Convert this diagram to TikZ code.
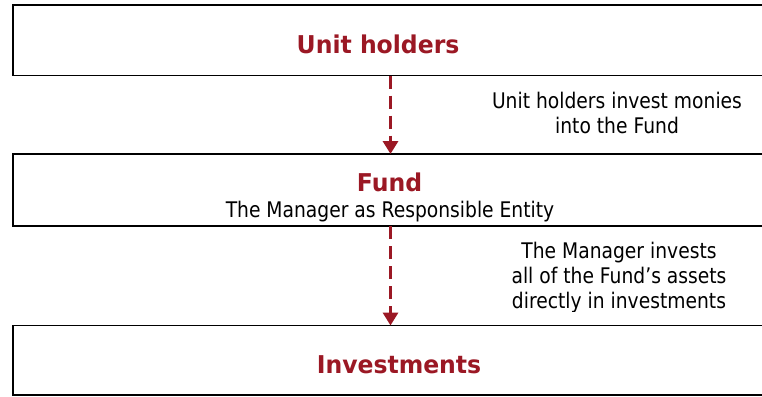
\documentclass[tikz,border=0pt]{standalone}
\usepackage{fontspec}
\setmainfont{DejaVu Sans}[FakeStretch=0.87]
\newfontfamily\titlefont{DejaVu Sans}[FakeStretch=0.96]
\usetikzlibrary{arrows.meta}
\definecolor{fundred}{RGB}{155,24,36}
\tikzset{
  band/.style={draw=black, line width=1.8pt, rectangle, outer sep=0pt, inner sep=0pt, anchor=north west},
  title/.style={text=fundred, font=\titlefont\bfseries\fontsize{24.5}{28}\selectfont, inner sep=0pt, anchor=base},
  body/.style={text=black, font=\fontsize{21.5}{25}\selectfont, inner sep=0pt, align=center},
  flow/.style={draw=fundred, line width=3.4pt, dash pattern=on 13pt off 7pt, -{Triangle[width=15pt,length=13pt]}}
}
\begin{document}
\begin{tikzpicture}[x=1pt, y=-1pt]
\useasboundingbox (0,0) rectangle (762,396);
\fill[white] (0,0) rectangle (762,396);
\clip (0,0) rectangle (762,396);
% bands
\node[band, minimum width=790pt, minimum height=70.5pt] (top) at (13,5) {};
\node[band, minimum width=790pt, minimum height=72pt] (fund) at (13,154) {};
\node[band, minimum width=790pt, minimum height=69.5pt] (inv) at (13,325.5) {};
% titles
\node[title] (tUnit) at (378,53) {Unit holders};
\node[title] (tFund) at (389.5,191) {Fund};
\node[body, anchor=base] (tRE) at (390,217) {The Manager as Responsible Entity};
\node[title] (tInv) at (399,373) {Investments};
% side labels
\node[body] (lab1) at (617,113.4) {Unit holders invest monies\\into the Fund};
\begin{scope}
\clip (470,228) rectangle (762,311);
\node[body] (lab2) at (619,277.4) {The Manager invests\\all of the Fund’s assets\\directly in investments};
\end{scope}
% connectors
\coordinate (ax) at (390.5,0);
\draw[flow] (top.south -| ax) -- (fund.north -| ax);
\draw[flow] (fund.south -| ax) -- (inv.north -| ax);
\end{tikzpicture}
\end{document}
